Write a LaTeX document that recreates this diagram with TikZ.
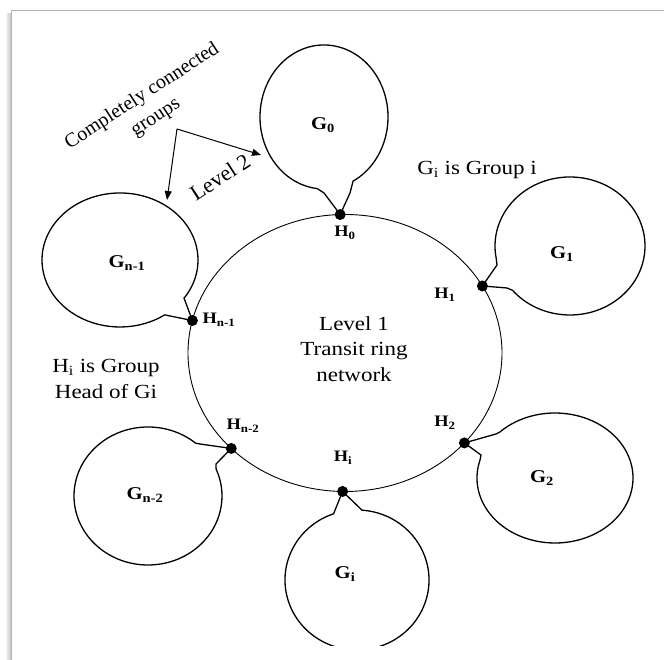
\documentclass[tikz,border=0pt]{standalone}
\usepackage{fontspec}
\setmainfont{Liberation Serif}
\usetikzlibrary{positioning,arrows.meta,shapes.geometric}
\definecolor{frame}{HTML}{B4B4B4}
\newcommand{\lowidx}[1]{\textsubscript{#1}}

\tikzset{
  txt/.style={font=\fontsize{20}{25.5}\selectfont,align=center,inner sep=0pt,xscale=1.15},
  slanted/.style={font=\fontsize{20}{25}\selectfont,align=center,inner sep=0pt,rotate=33},
  glabel/.style={font=\bfseries\fontsize{18}{18}\selectfont,inner sep=0pt,xscale=1.15},
  hlabel/.style={font=\bfseries\fontsize{16}{16}\selectfont,inner sep=0pt,xscale=1.15},
  head/.style={circle,fill=black,inner sep=0pt,minimum size=11pt},
  balloon/.style={line width=1.3pt},
  pointer/.style={line width=1pt,-{Triangle[length=9pt,width=7pt]}},
}

\begin{document}
\begin{tikzpicture}[x=1pt,y=1pt]
\useasboundingbox (0,0) rectangle (665,660);
\fill[left color=white,right color=black!25] (5,0) rectangle (11,646);
\draw[frame,line width=1pt] (11.5,0) -- (11.5,649.5) -- (664,649.5);

\node[ellipse,draw,line width=0.9pt,minimum width=314pt,minimum height=277pt,inner sep=0pt,outer sep=0pt] (ring) at (345,307) {};
\node[txt] (level1) at (354,311) {Level 1\\Transit ring\\network};

\coordinate (h0) at (ring.92);
\coordinate (h1) at (ring.26);
\coordinate (h2) at (ring.-37);
\coordinate (hi) at (ring.-91);
\coordinate (hn2) at (ring.220);
\coordinate (hn1) at (ring.168);

\draw[balloon] ([shift={(-63:64pt and 72pt)}]324,543) arc[start angle=-63,end angle=264,x radius=64pt,y radius=72pt]
  -- (324,467) -- (h0) -- (350,467) -- cycle;
\draw[balloon] ([shift={(220:75pt and 69pt)}]570,414) arc[start angle=220,end angle=550,x radius=75pt,y radius=69pt]
  -- (497,395) -- (h1) -- (507,372) -- cycle;
\draw[balloon] ([shift={(164:78pt and 65pt)}]555,182) arc[start angle=164,end angle=495,x radius=78pt,y radius=65pt]
  -- (496,226) -- (h2) -- (481,205) -- cycle;
\begin{scope}
  \clip (0,14) rectangle (665,660);
  \draw[balloon] ([shift={(109:72pt and 70pt)}]357,80) arc[start angle=109,end angle=446,x radius=72pt,y radius=70pt]
    -- (hi) -- cycle;
\end{scope}
\draw[balloon] ([shift={(50:74pt and 69pt)}]148,164) arc[start angle=50,end angle=383,x radius=74pt,y radius=69pt]
  -- (216,196) -- (hn2) -- (200,216) -- cycle;
\draw[balloon] ([shift={(-33:78pt and 67pt)}]120,400) arc[start angle=-33,end angle=305,x radius=78pt,y radius=67pt]
  -- (hn1) -- (184,362) -- cycle;

\foreach \h in {h0,h1,h2,hi,hn2,hn1}
  \node[head] at (\h) {};

\node[glabel] (g0) at (323,535) {G\lowidx{0}};
\node[glabel] (g1) at (562,406) {G\lowidx{1}};
\node[glabel] (g2) at (542,182) {G\lowidx{2}};
\node[glabel] (gi) at (345,86) {G\lowidx{i}};
\node[glabel] (gn2) at (145,165) {G\lowidx{n-2}};
\node[glabel] (gn1) at (127,397) {G\lowidx{n-1}};

\node[hlabel] (h0l) at (345,427) {H\lowidx{0}};
\node[hlabel] (h1l) at (445,365) {H\lowidx{1}};
\node[hlabel] (h2l) at (445,237) {H\lowidx{2}};
\node[hlabel] (hil) at (343,202) {H\lowidx{i}};
\node[hlabel] (hn2l) at (243,234) {H\lowidx{n-2}};
\node[hlabel] (hn1l) at (219,340) {H\lowidx{n-1}};

\node[txt] (gdef) at (477,490) {G\lowidx{i} is Group i};
\node[txt] (hdef) at (106,281) {H\lowidx{i} is Group\\Head of Gi};

\node[slanted] (complete) at (149,553) {Completely connected\\groups};
\node[slanted,font=\fontsize{22}{22}\selectfont] (level2) at (220,483) {Level 2};

\coordinate (fork) at (177,531);
\coordinate (tipl) at (167,460);
\coordinate (tipr) at (261,505);
\draw[pointer] (fork) -- (tipl);
\draw[pointer] (fork) -- (tipr);
\end{tikzpicture}
\end{document}
